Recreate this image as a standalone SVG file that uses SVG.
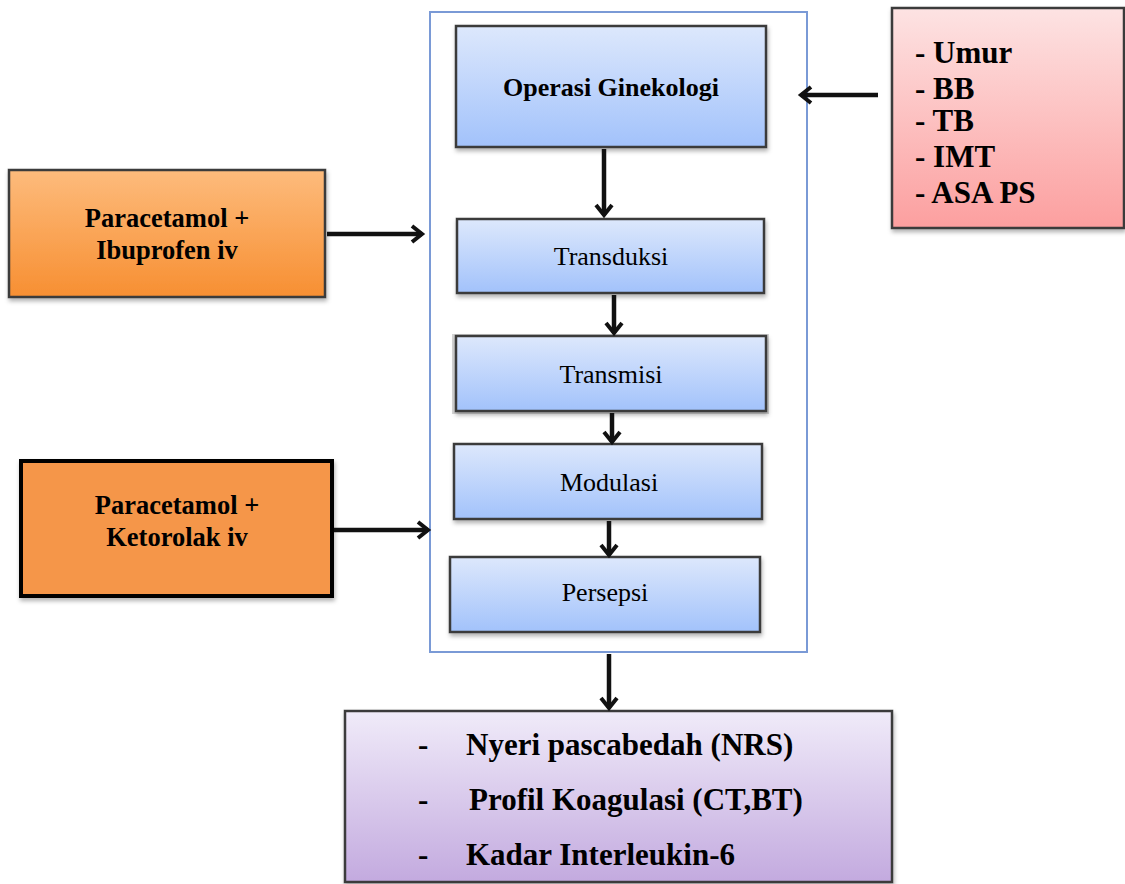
<svg xmlns="http://www.w3.org/2000/svg" width="1125" height="884" viewBox="0 0 1125 884">
<defs>
<linearGradient id="gBlue" x1="0" y1="0" x2="0" y2="1"><stop offset="0" stop-color="#dde8fc"/><stop offset="1" stop-color="#a2c2fb"/></linearGradient>
<linearGradient id="gOrange" x1="0" y1="0" x2="0" y2="1"><stop offset="0" stop-color="#fdbb7c"/><stop offset="1" stop-color="#f78f32"/></linearGradient>
<linearGradient id="gPink" x1="0" y1="0" x2="0" y2="1"><stop offset="0" stop-color="#fde3e3"/><stop offset="1" stop-color="#fc9f9f"/></linearGradient>
<linearGradient id="gPurple" x1="0" y1="0" x2="0" y2="1"><stop offset="0" stop-color="#f0ebf9"/><stop offset="1" stop-color="#c3aadf"/></linearGradient>
<filter id="sh" x="-10%" y="-10%" width="120%" height="130%"><feDropShadow dx="1" dy="3" stdDeviation="2" flood-color="#000" flood-opacity="0.3"/></filter>
<marker id="ah" viewBox="0 0 20 20" refX="16" refY="10" markerWidth="20" markerHeight="20" markerUnits="userSpaceOnUse" orient="auto"><polyline points="6,2 16,10 6,18" fill="none" stroke="#111" stroke-width="4" stroke-linejoin="miter"/></marker>
</defs>
<style>
.box{stroke:#3a3a3a;stroke-width:2.5;filter:url(#sh)}
.t{font-family:"Liberation Serif","Times New Roman",serif;fill:#000;text-anchor:middle}
.b{font-weight:bold}
.tl{font-family:"Liberation Serif","Times New Roman",serif;fill:#000;font-weight:bold}
.con{stroke:#111;stroke-width:4.5;fill:none;marker-end:url(#ah)}
</style>
<rect width="1125" height="884" fill="#fff"/>
<g id="container"><rect x="430" y="12" width="377" height="640" fill="none" stroke="#7a9ad6" stroke-width="2"/></g>
<g id="operasi"><rect class="box" x="456" y="26" width="310" height="121" fill="url(#gBlue)"/><text class="t b" x="611" y="96" font-size="26">Operasi Ginekologi</text></g>
<g id="transduksi"><rect class="box" x="457" y="219" width="307" height="74" fill="url(#gBlue)"/><text class="t" x="611" y="265" font-size="26">Transduksi</text></g>
<g id="transmisi"><rect x="452" y="334" width="317" height="80" fill="#d4d4d4"/><rect class="box" x="456" y="336" width="310" height="75" fill="url(#gBlue)"/><text class="t" x="611" y="383" font-size="26">Transmisi</text></g>
<g id="modulasi"><rect class="box" x="454" y="444" width="308" height="75" fill="url(#gBlue)"/><text class="t" x="609" y="491" font-size="26">Modulasi</text></g>
<g id="persepsi"><rect class="box" x="450" y="557" width="310" height="75" fill="url(#gBlue)"/><text class="t" x="605" y="601" font-size="26">Persepsi</text></g>
<g id="faktor"><rect class="box" x="892" y="8" width="232" height="220" fill="url(#gPink)"/>
<text class="tl" x="915" y="63" font-size="31">- Umur</text>
<text class="tl" x="915" y="99" font-size="31">- BB</text>
<text class="tl" x="915" y="131" font-size="31">- TB</text>
<text class="tl" x="915" y="167" font-size="31">- IMT</text>
<text class="tl" x="915" y="203" font-size="31">- ASA PS</text></g>
<g id="ibuprofen"><rect class="box" x="9" y="170" width="316" height="127" fill="url(#gOrange)"/><text class="t b" x="167" y="227" font-size="26.5">Paracetamol +</text><text class="t b" x="167" y="259" font-size="26.5">Ibuprofen iv</text></g>
<g id="ketorolak"><rect x="21" y="461" width="311" height="135" fill="#f5964a" stroke="#000" stroke-width="4" filter="url(#sh)"/><text class="t b" x="177" y="514" font-size="26.5">Paracetamol +</text><text class="t b" x="177" y="546" font-size="26.5">Ketorolak iv</text></g>
<g id="outcome"><rect class="box" x="345" y="711" width="547" height="171" fill="url(#gPurple)"/>
<text class="tl" x="418" y="755" font-size="31">-</text><text class="tl" x="466" y="755" font-size="31">Nyeri pascabedah (NRS)</text>
<text class="tl" x="418" y="810" font-size="31">-</text><text class="tl" x="469" y="810" font-size="31">Profil Koagulasi (CT,BT)</text>
<text class="tl" x="418" y="865" font-size="31">-</text><text class="tl" x="466" y="865" font-size="31">Kadar Interleukin-6</text></g>
<g id="connectors">
<line class="con" x1="604" y1="149" x2="604" y2="215"/>
<line class="con" x1="614" y1="295" x2="614" y2="333"/>
<line class="con" x1="612" y1="413" x2="612" y2="442"/>
<line class="con" x1="609" y1="521" x2="609" y2="555"/>
<line class="con" x1="609" y1="654" x2="609" y2="708"/>
<line class="con" x1="327" y1="234" x2="422" y2="234"/>
<line class="con" x1="334" y1="530" x2="428" y2="530"/>
<line class="con" x1="878" y1="95" x2="801" y2="95"/>
</g>
</svg>
